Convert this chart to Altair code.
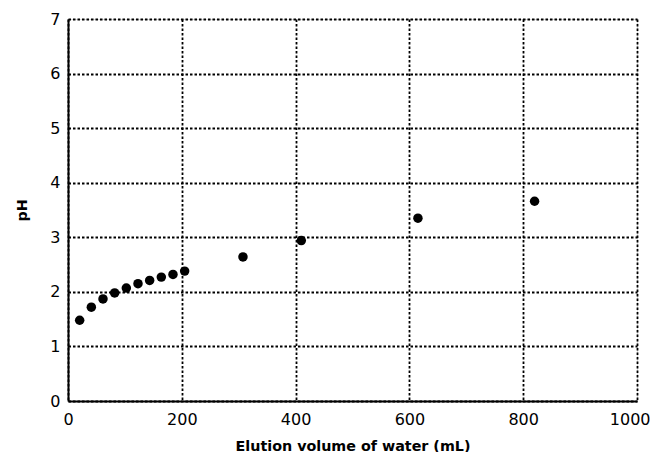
import altair as alt
import pandas as pd

volume_ml = [20.5, 41, 61.5, 82, 102.5, 123, 143.5, 164, 184.5, 205, 307.5, 410, 615, 820]
ph = [1.48, 1.72, 1.87, 1.98, 2.07, 2.15, 2.21, 2.27, 2.32, 2.38, 2.64, 2.94, 3.35, 3.66]
x_ticks = [0, 200, 400, 600, 800, 1000]
y_ticks = [0, 1, 2, 3, 4, 5, 6, 7]

df = pd.DataFrame({"volume": volume_ml, "ph": ph})

font = "DejaVu Sans"

common = dict(
    titleFont=font,
    titleFontSize=14.3,
    titleFontWeight="bold",
    titleColor="black",
    labelFont=font,
    labelFontSize=16,
    labelColor="black",
    ticks=False,
    domainColor="black",
    domainWidth=2,
    grid=True,
    gridColor="black",
    gridDash=[2.5, 2],
    gridWidth=1.8,
    gridOpacity=1,
    labelFlush=False,
    format="d",
)

points = alt.Chart(df).mark_circle(size=90, color="black", opacity=1).encode(
    x=alt.X(
        "volume:Q",
        scale=alt.Scale(domain=[0, 1000], nice=False),
        axis=alt.Axis(
            values=x_ticks,
            title="Elution volume of water (mL)",
            titlePadding=12,
            labelPadding=10,
            labelAlign={"condition": {"test": "datum.value == 1000", "value": "right"}, "value": "center"},
            labelOffset={"condition": {"test": "datum.value == 1000", "value": 13}, "value": 0},
            **common,
        ),
    ),
    y=alt.Y(
        "ph:Q",
        scale=alt.Scale(domain=[0, 7], nice=False),
        axis=alt.Axis(
            values=y_ticks,
            title="pH",
            titlePadding=20,
            labelPadding=8,
            **common,
        ),
    ),
)

chart = points.properties(
    width=569,
    height=382,
    autosize=alt.AutoSizeParams(type="none"),
    padding={"left": 60, "top": 11, "right": 13, "bottom": 51},
).configure_view(stroke=None).configure(background="white")

chart.save("out.html", embed_options={"renderer": "svg", "actions": False})
